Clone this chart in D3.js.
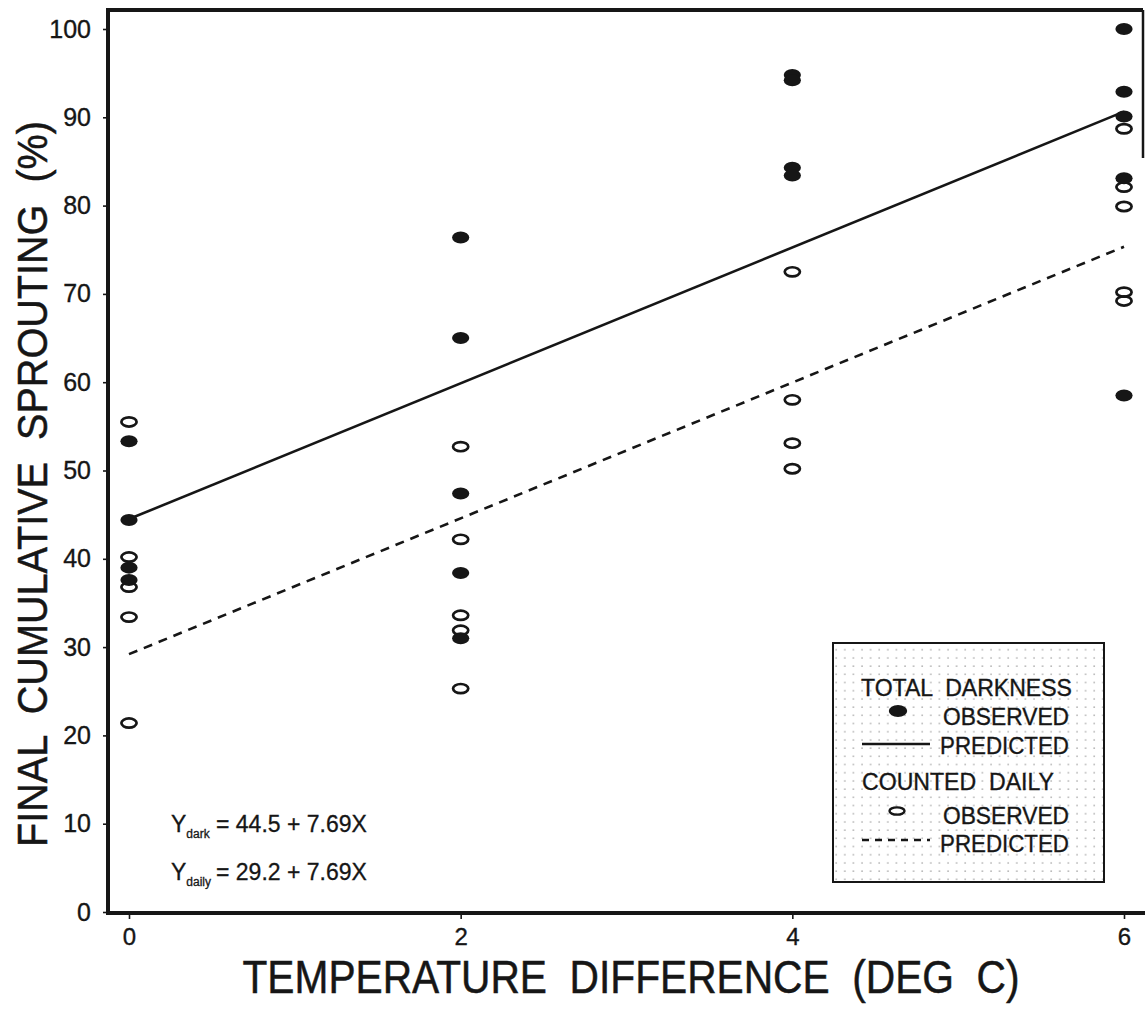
<!DOCTYPE html>
<html>
<head>
<meta charset="utf-8">
<script src="https://cdn.jsdelivr.net/npm/d3@7"></script>
<style>
  html, body { margin: 0; padding: 0; background: #fff; }
  svg { display: block; }
  text { font-family: "Liberation Sans", Arial, Helvetica, sans-serif; fill: #161616; white-space: pre; }
</style>
</head>
<body>
<svg id="chart" width="1145" height="1012"></svg>
<script>
// Temperature differences (deg C) at which sprouting was recorded
const temperatures = [0, 2, 4, 6];
const xTicks = [0, 2, 4, 6];
const yTicks = [0, 10, 20, 30, 40, 50, 60, 70, 80, 90, 100];

// Final cumulative sprouting (%) per temperature, tubers kept in total darkness
const darkObserved = [
  [53.3, 44.4, 39.0, 37.6],
  [76.4, 65.0, 47.4, 38.4, 31.0],
  [94.8, 94.2, 84.3, 83.4],
  [100.0, 92.9, 90.1, 83.1, 58.5]
];
// Final cumulative sprouting (%) per temperature, tubers counted daily
const dailyObserved = [
  [55.5, 40.2, 36.8, 33.4, 21.4],
  [52.7, 42.2, 33.6, 31.9, 25.3],
  [72.5, 58.0, 53.1, 50.2],
  [88.7, 82.1, 79.9, 70.2, 69.2]
];

// Fitted regression lines
const commonSlope = 7.69;
const darkIntercept = 44.5;
const dailyIntercept = 29.2;

const legendEntries = ["TOTAL  DARKNESS", "OBSERVED", "PREDICTED", "COUNTED  DAILY", "OBSERVED", "PREDICTED"];
const xTitle = "TEMPERATURE  DIFFERENCE  (DEG  C)";
const yTitle = "FINAL  CUMULATIVE  SPROUTING  (%)";

const svg = d3.select("#chart");
const ink = "#161616";

const x = d3.scaleLinear().domain([0, 6]).range([129, 1124]);
const y = d3.scaleLinear().domain([0, 100]).range([912, 29]);

const frame = { left: 108, top: 10, right: 1143, bottom: 913 };

// Axes (tick marks + labels), drawn outside the frame
const yAxis = svg.append("g")
  .attr("transform", `translate(${frame.left},0)`)
  .call(d3.axisLeft(y).tickValues(yTicks).tickSize(5).tickPadding(12).tickFormat(d3.format("d")));
yAxis.select(".domain").remove();
yAxis.selectAll(".tick line").attr("stroke", ink).attr("stroke-width", 1.6);
yAxis.selectAll(".tick text")
  .attr("fill", ink).attr("stroke", ink).attr("stroke-width", 0.35)
  .style("font-size", "25px").style("font-family", "'Liberation Sans', Arial, sans-serif");

const xAxis = svg.append("g")
  .attr("transform", `translate(0,${frame.bottom})`)
  .call(d3.axisBottom(x).tickValues(xTicks).tickSize(6).tickPadding(9).tickFormat(d3.format("d")));
xAxis.select(".domain").remove();
xAxis.selectAll(".tick line").attr("stroke", ink).attr("stroke-width", 1.6);
xAxis.selectAll(".tick text")
  .attr("fill", ink).attr("stroke", ink).attr("stroke-width", 0.35)
  .style("font-size", "24px").style("font-family", "'Liberation Sans', Arial, sans-serif");

// Plot frame: heavy left, top and bottom rules; the right rule is short
const framePath = d3.path();
framePath.moveTo(frame.right, frame.top);
framePath.lineTo(frame.left, frame.top);
framePath.lineTo(frame.left, frame.bottom);
framePath.lineTo(frame.right + 2, frame.bottom);
svg.append("path").attr("d", framePath.toString())
  .attr("fill", "none").attr("stroke", ink).attr("stroke-width", 4);
svg.append("line")
  .attr("x1", frame.right).attr("x2", frame.right)
  .attr("y1", frame.top).attr("y2", 158)
  .attr("stroke", ink).attr("stroke-width", 2.5);

// Regression lines
const fitLine = d3.line().x(d => x(d[0])).y(d => y(d[1]));
const fitPoints = (b0) => d3.extent(temperatures).map(t => [t, b0 + commonSlope * t]);

svg.append("path").attr("d", fitLine(fitPoints(darkIntercept)))
  .attr("fill", "none").attr("stroke", ink).attr("stroke-width", 2.6);
svg.append("path").attr("d", fitLine(fitPoints(dailyIntercept)))
  .attr("fill", "none").attr("stroke", ink).attr("stroke-width", 2.6)
  .attr("stroke-dasharray", "9,7");

// Observed points
const flatten = (groups) => groups.flatMap((vals, i) => vals.map(v => ({ t: temperatures[i], v })));

svg.append("g").selectAll("ellipse")
  .data(flatten(dailyObserved))
  .join("ellipse")
  .attr("cx", d => x(d.t)).attr("cy", d => y(d.v))
  .attr("rx", 7.6).attr("ry", 4.6)
  .attr("fill", "none").attr("stroke", ink).attr("stroke-width", 2.7);

svg.append("g").selectAll("ellipse")
  .data(flatten(darkObserved))
  .join("ellipse")
  .attr("cx", d => x(d.t)).attr("cy", d => y(d.v))
  .attr("rx", 8.6).attr("ry", 6.0)
  .attr("fill", ink);

// Regression equations
function equation(yBase, sub, rhs) {
  const t = svg.append("text").attr("x", 171).attr("y", yBase)
    .attr("stroke", ink).attr("stroke-width", 0.3)
    .style("font-size", "23px");
  t.append("tspan").text("Y");
  t.append("tspan").attr("dy", 6).style("font-size", "12px").text(sub);
  t.append("tspan").attr("x", 216).attr("dy", -6).text(rhs);
}
equation(832, "dark", `= ${darkIntercept} + ${commonSlope}X`);
equation(880, "daily", `= ${dailyIntercept} + ${commonSlope}X`);

// Legend
const legend = svg.append("g");
const defs = svg.append("defs");
const dots = defs.append("pattern").attr("id", "legendDots")
  .attr("patternUnits", "userSpaceOnUse").attr("width", 8.6).attr("height", 8.2);
dots.append("rect").attr("width", 8.6).attr("height", 8.2).attr("fill", "#fff");
dots.append("circle").attr("cx", 2).attr("cy", 2).attr("r", 0.75).attr("fill", "#9a9a9a");

legend.append("rect")
  .attr("x", 833).attr("y", 643).attr("width", 271).attr("height", 239)
  .attr("fill", "url(#legendDots)").attr("stroke", ink).attr("stroke-width", 2);

const legendText = [
  { x: 861, y: 696, w: 211 },
  { x: 943, y: 725, w: 126 },
  { x: 940, y: 754, w: 129 },
  { x: 862, y: 790, w: 192 },
  { x: 943, y: 824, w: 126 },
  { x: 940, y: 852, w: 129 }
];
legend.selectAll("text.entry")
  .data(legendEntries)
  .join("text")
  .attr("class", "entry")
  .attr("x", (d, i) => legendText[i].x).attr("y", (d, i) => legendText[i].y)
  .attr("textLength", (d, i) => legendText[i].w).attr("lengthAdjust", "spacingAndGlyphs")
  .attr("stroke", ink).attr("stroke-width", 0.35)
  .style("font-size", "23px")
  .text(d => d);

legend.append("ellipse").attr("cx", 898).attr("cy", 711).attr("rx", 9.2).attr("ry", 6).attr("fill", ink);
legend.append("line").attr("x1", 862).attr("x2", 930).attr("y1", 744).attr("y2", 744)
  .attr("stroke", ink).attr("stroke-width", 2.6);
legend.append("ellipse").attr("cx", 897).attr("cy", 811).attr("rx", 7.5).attr("ry", 3.6)
  .attr("fill", "none").attr("stroke", ink).attr("stroke-width", 2.4);
legend.append("line").attr("x1", 862).attr("x2", 930).attr("y1", 840).attr("y2", 840)
  .attr("stroke", ink).attr("stroke-width", 2.6).attr("stroke-dasharray", "7,6");

// Axis titles
svg.append("text")
  .attr("x", 631).attr("y", 993).attr("text-anchor", "middle")
  .attr("textLength", 777).attr("lengthAdjust", "spacingAndGlyphs")
  .attr("stroke", ink).attr("stroke-width", 0.5)
  .style("font-size", "46px")
  .text(xTitle);

svg.append("text")
  .attr("transform", "translate(47,484) rotate(-90)")
  .attr("text-anchor", "middle")
  .attr("textLength", 726).attr("lengthAdjust", "spacingAndGlyphs")
  .attr("stroke", ink).attr("stroke-width", 0.5)
  .style("font-size", "43px")
  .text(yTitle);
</script>
</body>
</html>
